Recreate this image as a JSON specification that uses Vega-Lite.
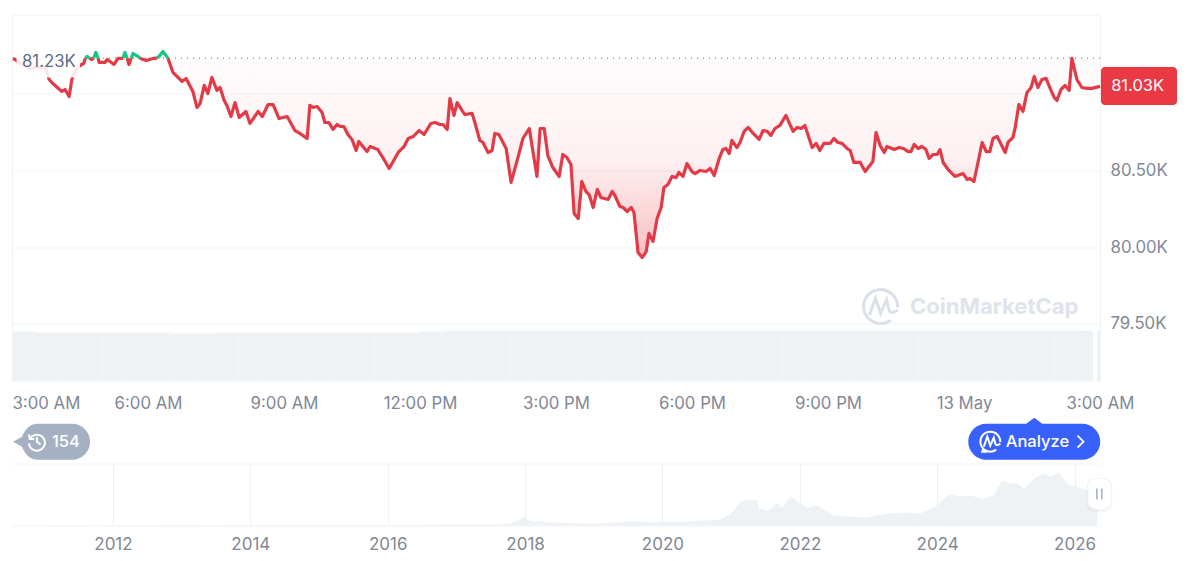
{
  "$schema": "https://vega.github.io/schema/vega-lite/v6.json",
  "background": "white",
  "padding": {"left": 10, "top": 13.5, "right": 23, "bottom": 8},
  "bounds": "flush",
  "spacing": 83,
  "data": {"values": [{}]},
  "config": {
    "font": "Inter",
    "view": {"stroke": null},
    "axis": {"labelFont": "Inter", "labelFontSize": 16.8, "labelColor": "#7f8894", "gridColor": "#eff2f5", "gridWidth": 1, "domain": false, "ticks": false, "title": null}
  },
  "datasets": {
    "down": [
      {"t":3.02,"price":81228,"seg":"d1"},{"t":3.07,"price":81221,"seg":"d1"},{"t":3.18,"price":81195,"seg":"d1"},{"t":3.40,"price":81163,"seg":"d1"},{"t":3.57,"price":81169,"seg":"d1"},{"t":3.73,"price":81176,"seg":"d1"},{"t":3.82,"price":81091,"seg":"d1"},{"t":3.90,"price":81065,"seg":"d1"},{"t":4.10,"price":81013,"seg":"d1"},{"t":4.17,"price":81026,"seg":"d1"},{"t":4.26,"price":80980,"seg":"d1"},{"t":4.32,"price":81091,"seg":"d1"},{"t":4.37,"price":81137,"seg":"d1"},{"t":4.50,"price":81182,"seg":"d1"},{"t":4.58,"price":81195,"seg":"d1"},{"t":4.62,"price":81230,"seg":"d1"},
      {"t":4.71,"price":81230,"seg":"d2"},{"t":4.76,"price":81221,"seg":"d2"},{"t":4.80,"price":81230,"seg":"d2"},
      {"t":4.90,"price":81230,"seg":"d3"},{"t":4.92,"price":81202,"seg":"d3"},{"t":5.05,"price":81202,"seg":"d3"},{"t":5.10,"price":81221,"seg":"d3"},{"t":5.25,"price":81189,"seg":"d3"},{"t":5.34,"price":81228,"seg":"d3"},{"t":5.43,"price":81228,"seg":"d3"},{"t":5.45,"price":81230,"seg":"d3"},
      {"t":5.54,"price":81230,"seg":"d4"},{"t":5.58,"price":81189,"seg":"d4"},{"t":5.63,"price":81230,"seg":"d4"},
      {"t":5.82,"price":81230,"seg":"d5"},{"t":5.96,"price":81215,"seg":"d5"},{"t":6.11,"price":81228,"seg":"d5"},{"t":6.20,"price":81230,"seg":"d5"},
      {"t":6.44,"price":81230,"seg":"d6"},{"t":6.55,"price":81137,"seg":"d6"},{"t":6.75,"price":81078,"seg":"d6"},{"t":6.84,"price":81098,"seg":"d6"},{"t":6.99,"price":81013,"seg":"d6"},{"t":7.08,"price":80909,"seg":"d6"},{"t":7.15,"price":80935,"seg":"d6"},{"t":7.24,"price":81052,"seg":"d6"},{"t":7.32,"price":81000,"seg":"d6"},{"t":7.41,"price":81104,"seg":"d6"},{"t":7.52,"price":81020,"seg":"d6"},{"t":7.59,"price":81039,"seg":"d6"},{"t":7.68,"price":80954,"seg":"d6"},{"t":7.74,"price":80922,"seg":"d6"},{"t":7.83,"price":80850,"seg":"d6"},{"t":7.92,"price":80941,"seg":"d6"},{"t":8.01,"price":80844,"seg":"d6"},{"t":8.16,"price":80883,"seg":"d6"},{"t":8.25,"price":80805,"seg":"d6"},{"t":8.43,"price":80883,"seg":"d6"},{"t":8.52,"price":80850,"seg":"d6"},{"t":8.65,"price":80928,"seg":"d6"},{"t":8.76,"price":80928,"seg":"d6"},{"t":8.89,"price":80837,"seg":"d6"},{"t":9.07,"price":80850,"seg":"d6"},{"t":9.24,"price":80759,"seg":"d6"},{"t":9.35,"price":80740,"seg":"d6"},{"t":9.51,"price":80707,"seg":"d6"},{"t":9.57,"price":80922,"seg":"d6"},{"t":9.64,"price":80909,"seg":"d6"},{"t":9.73,"price":80915,"seg":"d6"},{"t":9.84,"price":80876,"seg":"d6"},{"t":9.90,"price":80811,"seg":"d6"},{"t":9.99,"price":80811,"seg":"d6"},{"t":10.08,"price":80766,"seg":"d6"},{"t":10.17,"price":80798,"seg":"d6"},{"t":10.24,"price":80785,"seg":"d6"},{"t":10.32,"price":80785,"seg":"d6"},{"t":10.41,"price":80733,"seg":"d6"},{"t":10.50,"price":80701,"seg":"d6"},{"t":10.59,"price":80629,"seg":"d6"},{"t":10.65,"price":80688,"seg":"d6"},{"t":10.83,"price":80622,"seg":"d6"},{"t":10.90,"price":80655,"seg":"d6"},{"t":11.07,"price":80635,"seg":"d6"},{"t":11.18,"price":80583,"seg":"d6"},{"t":11.32,"price":80512,"seg":"d6"},{"t":11.52,"price":80616,"seg":"d6"},{"t":11.65,"price":80655,"seg":"d6"},{"t":11.74,"price":80707,"seg":"d6"},{"t":11.85,"price":80720,"seg":"d6"},{"t":11.98,"price":80759,"seg":"d6"},{"t":12.09,"price":80733,"seg":"d6"},{"t":12.24,"price":80805,"seg":"d6"},{"t":12.33,"price":80811,"seg":"d6"},{"t":12.44,"price":80798,"seg":"d6"},{"t":12.51,"price":80798,"seg":"d6"},{"t":12.60,"price":80766,"seg":"d6"},{"t":12.66,"price":80967,"seg":"d6"},{"t":12.75,"price":80857,"seg":"d6"},{"t":12.82,"price":80941,"seg":"d6"},{"t":12.93,"price":80889,"seg":"d6"},{"t":12.99,"price":80863,"seg":"d6"},{"t":13.15,"price":80870,"seg":"d6"},{"t":13.21,"price":80811,"seg":"d6"},{"t":13.32,"price":80694,"seg":"d6"},{"t":13.39,"price":80681,"seg":"d6"},{"t":13.50,"price":80616,"seg":"d6"},{"t":13.59,"price":80629,"seg":"d6"},{"t":13.65,"price":80740,"seg":"d6"},{"t":13.74,"price":80733,"seg":"d6"},{"t":13.90,"price":80642,"seg":"d6"},{"t":14.01,"price":80421,"seg":"d6"},{"t":14.16,"price":80583,"seg":"d6"},{"t":14.27,"price":80707,"seg":"d6"},{"t":14.41,"price":80772,"seg":"d6"},{"t":14.58,"price":80460,"seg":"d6"},{"t":14.65,"price":80772,"seg":"d6"},{"t":14.74,"price":80772,"seg":"d6"},{"t":14.82,"price":80596,"seg":"d6"},{"t":14.93,"price":80518,"seg":"d6"},{"t":15.07,"price":80460,"seg":"d6"},{"t":15.15,"price":80603,"seg":"d6"},{"t":15.24,"price":80583,"seg":"d6"},{"t":15.33,"price":80538,"seg":"d6"},{"t":15.40,"price":80219,"seg":"d6"},{"t":15.49,"price":80186,"seg":"d6"},{"t":15.57,"price":80427,"seg":"d6"},{"t":15.66,"price":80362,"seg":"d6"},{"t":15.73,"price":80342,"seg":"d6"},{"t":15.82,"price":80258,"seg":"d6"},{"t":15.91,"price":80375,"seg":"d6"},{"t":15.99,"price":80323,"seg":"d6"},{"t":16.15,"price":80310,"seg":"d6"},{"t":16.24,"price":80362,"seg":"d6"},{"t":16.30,"price":80336,"seg":"d6"},{"t":16.41,"price":80264,"seg":"d6"},{"t":16.48,"price":80258,"seg":"d6"},{"t":16.57,"price":80232,"seg":"d6"},{"t":16.66,"price":80258,"seg":"d6"},{"t":16.72,"price":80225,"seg":"d6"},{"t":16.81,"price":79965,"seg":"d6"},{"t":16.90,"price":79932,"seg":"d6"},{"t":16.99,"price":79971,"seg":"d6"},{"t":17.05,"price":80089,"seg":"d6"},{"t":17.14,"price":80037,"seg":"d6"},{"t":17.23,"price":80186,"seg":"d6"},{"t":17.32,"price":80258,"seg":"d6"},{"t":17.38,"price":80388,"seg":"d6"},{"t":17.47,"price":80408,"seg":"d6"},{"t":17.56,"price":80460,"seg":"d6"},{"t":17.65,"price":80453,"seg":"d6"},{"t":17.71,"price":80486,"seg":"d6"},{"t":17.80,"price":80460,"seg":"d6"},{"t":17.89,"price":80544,"seg":"d6"},{"t":18.00,"price":80492,"seg":"d6"},{"t":18.07,"price":80479,"seg":"d6"},{"t":18.18,"price":80499,"seg":"d6"},{"t":18.31,"price":80492,"seg":"d6"},{"t":18.40,"price":80512,"seg":"d6"},{"t":18.49,"price":80466,"seg":"d6"},{"t":18.60,"price":80577,"seg":"d6"},{"t":18.68,"price":80635,"seg":"d6"},{"t":18.75,"price":80642,"seg":"d6"},{"t":18.82,"price":80609,"seg":"d6"},{"t":18.88,"price":80694,"seg":"d6"},{"t":18.99,"price":80648,"seg":"d6"},{"t":19.06,"price":80681,"seg":"d6"},{"t":19.15,"price":80753,"seg":"d6"},{"t":19.24,"price":80779,"seg":"d6"},{"t":19.35,"price":80740,"seg":"d6"},{"t":19.48,"price":80701,"seg":"d6"},{"t":19.57,"price":80759,"seg":"d6"},{"t":19.66,"price":80753,"seg":"d6"},{"t":19.74,"price":80727,"seg":"d6"},{"t":19.83,"price":80772,"seg":"d6"},{"t":19.94,"price":80792,"seg":"d6"},{"t":20.07,"price":80857,"seg":"d6"},{"t":20.23,"price":80753,"seg":"d6"},{"t":20.32,"price":80779,"seg":"d6"},{"t":20.41,"price":80772,"seg":"d6"},{"t":20.49,"price":80792,"seg":"d6"},{"t":20.65,"price":80648,"seg":"d6"},{"t":20.74,"price":80675,"seg":"d6"},{"t":20.82,"price":80629,"seg":"d6"},{"t":20.91,"price":80675,"seg":"d6"},{"t":21.05,"price":80675,"seg":"d6"},{"t":21.13,"price":80707,"seg":"d6"},{"t":21.22,"price":80681,"seg":"d6"},{"t":21.31,"price":80675,"seg":"d6"},{"t":21.42,"price":80642,"seg":"d6"},{"t":21.49,"price":80629,"seg":"d6"},{"t":21.57,"price":80551,"seg":"d6"},{"t":21.71,"price":80551,"seg":"d6"},{"t":21.82,"price":80492,"seg":"d6"},{"t":21.99,"price":80557,"seg":"d6"},{"t":22.06,"price":80746,"seg":"d6"},{"t":22.15,"price":80661,"seg":"d6"},{"t":22.24,"price":80616,"seg":"d6"},{"t":22.30,"price":80655,"seg":"d6"},{"t":22.46,"price":80635,"seg":"d6"},{"t":22.57,"price":80648,"seg":"d6"},{"t":22.66,"price":80642,"seg":"d6"},{"t":22.77,"price":80622,"seg":"d6"},{"t":22.83,"price":80622,"seg":"d6"},{"t":22.90,"price":80668,"seg":"d6"},{"t":22.99,"price":80642,"seg":"d6"},{"t":23.07,"price":80655,"seg":"d6"},{"t":23.16,"price":80635,"seg":"d6"},{"t":23.23,"price":80577,"seg":"d6"},{"t":23.32,"price":80603,"seg":"d6"},{"t":23.41,"price":80603,"seg":"d6"},{"t":23.47,"price":80635,"seg":"d6"},{"t":23.54,"price":80551,"seg":"d6"},{"t":23.65,"price":80505,"seg":"d6"},{"t":23.80,"price":80460,"seg":"d6"},{"t":23.98,"price":80479,"seg":"d6"},{"t":24.07,"price":80440,"seg":"d6"},{"t":24.13,"price":80447,"seg":"d6"},{"t":24.22,"price":80427,"seg":"d6"},{"t":24.40,"price":80681,"seg":"d6"},{"t":24.49,"price":80622,"seg":"d6"},{"t":24.57,"price":80622,"seg":"d6"},{"t":24.64,"price":80707,"seg":"d6"},{"t":24.73,"price":80720,"seg":"d6"},{"t":24.91,"price":80616,"seg":"d6"},{"t":24.97,"price":80681,"seg":"d6"},{"t":25.08,"price":80714,"seg":"d6"},{"t":25.13,"price":80779,"seg":"d6"},{"t":25.21,"price":80928,"seg":"d6"},{"t":25.30,"price":80883,"seg":"d6"},{"t":25.39,"price":81007,"seg":"d6"},{"t":25.48,"price":81039,"seg":"d6"},{"t":25.55,"price":81111,"seg":"d6"},{"t":25.63,"price":81039,"seg":"d6"},{"t":25.72,"price":81091,"seg":"d6"},{"t":25.81,"price":81098,"seg":"d6"},{"t":25.90,"price":81033,"seg":"d6"},{"t":25.99,"price":80974,"seg":"d6"},{"t":26.05,"price":80954,"seg":"d6"},{"t":26.14,"price":81026,"seg":"d6"},{"t":26.23,"price":81052,"seg":"d6"},{"t":26.32,"price":81020,"seg":"d6"},{"t":26.38,"price":81228,"seg":"d6"},{"t":26.49,"price":81091,"seg":"d6"},{"t":26.60,"price":81039,"seg":"d6"},{"t":26.71,"price":81033,"seg":"d6"},{"t":26.82,"price":81033,"seg":"d6"},{"t":27.00,"price":81046,"seg":"d6"}
    ],
    "up": [
      {"t":4.62,"price":81230,"seg":"u1"},{"t":4.65,"price":81241,"seg":"u1"},{"t":4.71,"price":81230,"seg":"u1"},
      {"t":4.80,"price":81230,"seg":"u2"},{"t":4.85,"price":81267,"seg":"u2"},{"t":4.90,"price":81230,"seg":"u2"},
      {"t":5.45,"price":81230,"seg":"u3"},{"t":5.49,"price":81267,"seg":"u3"},{"t":5.54,"price":81230,"seg":"u3"},
      {"t":5.63,"price":81230,"seg":"u4"},{"t":5.67,"price":81260,"seg":"u4"},{"t":5.78,"price":81241,"seg":"u4"},{"t":5.82,"price":81230,"seg":"u4"},
      {"t":6.20,"price":81230,"seg":"u5"},{"t":6.24,"price":81241,"seg":"u5"},{"t":6.33,"price":81273,"seg":"u5"},{"t":6.44,"price":81230,"seg":"u5"}
    ],
    "volume": [
      {"t0":3,"t1":3.5,"vol":49},{"t0":3.5,"t1":4,"vol":48},{"t0":4,"t1":4.5,"vol":48},{"t0":4.5,"t1":5,"vol":48},{"t0":5,"t1":5.5,"vol":48},{"t0":5.5,"t1":6,"vol":48},{"t0":6,"t1":6.5,"vol":48},{"t0":6.5,"t1":7,"vol":47},{"t0":7,"t1":7.5,"vol":47},{"t0":7.5,"t1":8,"vol":48},{"t0":8,"t1":8.5,"vol":48},{"t0":8.5,"t1":9,"vol":48},{"t0":9,"t1":9.5,"vol":48},{"t0":9.5,"t1":10,"vol":48},{"t0":10,"t1":10.5,"vol":48},{"t0":10.5,"t1":11,"vol":48},{"t0":11,"t1":11.5,"vol":48},{"t0":11.5,"t1":12,"vol":48},{"t0":12,"t1":12.5,"vol":49},{"t0":12.5,"t1":13,"vol":50},{"t0":13,"t1":13.5,"vol":50},{"t0":13.5,"t1":14,"vol":50},{"t0":14,"t1":14.5,"vol":50},{"t0":14.5,"t1":15,"vol":50},{"t0":15,"t1":15.5,"vol":50},{"t0":15.5,"t1":16,"vol":50},{"t0":16,"t1":16.5,"vol":50},{"t0":16.5,"t1":17,"vol":50},{"t0":17,"t1":17.5,"vol":50},{"t0":17.5,"t1":18,"vol":50},{"t0":18,"t1":18.5,"vol":50},{"t0":18.5,"t1":19,"vol":50},{"t0":19,"t1":19.5,"vol":50},{"t0":19.5,"t1":20,"vol":50},{"t0":20,"t1":20.5,"vol":50},{"t0":20.5,"t1":21,"vol":50},{"t0":21,"t1":21.5,"vol":50},{"t0":21.5,"t1":22,"vol":50},{"t0":22,"t1":22.5,"vol":50},{"t0":22.5,"t1":23,"vol":50},{"t0":23,"t1":23.5,"vol":50},{"t0":23.5,"t1":24,"vol":50},{"t0":24,"t1":24.5,"vol":50},{"t0":24.5,"t1":25,"vol":50},{"t0":25,"t1":25.5,"vol":50},{"t0":25.5,"t1":26,"vol":50},{"t0":26,"t1":26.5,"vol":50},{"t0":26.5,"t1":26.85,"vol":50},{"t0":26.94,"t1":27,"vol":50}
    ],
    "history": [
      {"year":2010.53,"price":700},{"year":2015.89,"price":1000},{"year":2017.49,"price":2300},{"year":2017.78,"price":4000},{"year":2017.90,"price":11700},{"year":2017.97,"price":19400},{"year":2018.07,"price":11700},{"year":2018.15,"price":7700},{"year":2018.19,"price":11700},{"year":2018.29,"price":7700},{"year":2018.95,"price":4000},{"year":2019.39,"price":7700},{"year":2019.53,"price":10000},{"year":2019.82,"price":7700},{"year":2020.00,"price":7700},{"year":2020.14,"price":10000},{"year":2020.26,"price":7700},{"year":2020.59,"price":11700},{"year":2020.84,"price":13300},{"year":2020.99,"price":27300},{"year":2021.13,"price":53700},{"year":2021.24,"price":60000},{"year":2021.38,"price":58400},{"year":2021.40,"price":39700},{"year":2021.53,"price":35000},{"year":2021.67,"price":51300},{"year":2021.75,"price":42000},{"year":2021.86,"price":67700},{"year":2021.98,"price":53700},{"year":2022.11,"price":42000},{"year":2022.25,"price":46700},{"year":2022.37,"price":35000},{"year":2022.49,"price":23300},{"year":2022.73,"price":21000},{"year":2022.95,"price":18000},{"year":2023.27,"price":28000},{"year":2023.61,"price":30300},{"year":2023.75,"price":28000},{"year":2024.00,"price":46700},{"year":2024.10,"price":62000},{"year":2024.19,"price":74000},{"year":2024.30,"price":68000},{"year":2024.48,"price":70000},{"year":2024.67,"price":62300},{"year":2024.82,"price":70000},{"year":2024.95,"price":105000},{"year":2025.08,"price":97000},{"year":2025.17,"price":98000},{"year":2025.26,"price":85700},{"year":2025.43,"price":112000},{"year":2025.55,"price":121400},{"year":2025.65,"price":115000},{"year":2025.77,"price":123700},{"year":2025.90,"price":97300},{"year":2026.00,"price":92000},{"year":2026.13,"price":85700},{"year":2026.33,"price":77000}
    ]
  },
  "vconcat": [
    {
      "width": 1088,
      "height": 366,
      "view": {"stroke": "#eff2f5"},
      "layer": [
        {
          "data": {"name": "volume"},
          "mark": {"type": "rect", "color": "#eff2f4"},
          "encoding": {
            "x": {
              "field": "t0", "type": "quantitative",
              "scale": {"domain": [3, 27], "nice": false, "zero": false},
              "axis": {
                "values": [3, 6, 9, 12, 15, 18, 21, 24, 27],
                "grid": false, "labelPadding": 15, "labelOverlap": false, "labelBound": false, "labelFlush": false,
                "labelAlign": {"condition": {"test": "datum.value == 3", "value": "left"}, "value": "center"},
                "labelExpr": "{3:'3:00 AM',6:'6:00 AM',9:'9:00 AM',12:'12:00 PM',15:'3:00 PM',18:'6:00 PM',21:'9:00 PM',24:'13 May',27:'3:00 AM'}[datum.value]"
              }
            },
            "x2": {"field": "t1"},
            "y": {"field": "vol", "type": "quantitative", "scale": {"domain": [0, 366], "nice": false}, "axis": null},
            "y2": {"datum": 0}
          }
        },
        {
          "layer": [
            {
              "data": {"name": "down"},
              "transform": [{"filter": "datum.seg == 'd6'"}],
              "mark": {"type": "area", "color": {"gradient": "linear", "x1": 0, "x2": 0, "y1": 0, "y2": 1, "stops": [{"offset": 0, "color": "rgba(234,57,67,0.015)"}, {"offset": 0.5, "color": "rgba(234,57,67,0.07)"}, {"offset": 1, "color": "rgba(234,57,67,0.32)"}]}},
              "encoding": {
                "x": {"field": "t", "type": "quantitative"},
                "y": {
                  "field": "price", "type": "quantitative",
                  "scale": {"domain": [79132, 81514], "nice": false, "zero": false},
                  "axis": {
                    "orient": "right", "values": [79500, 80000, 80500, 81000], "grid": true, "labelPadding": 10,
                    "labelExpr": "datum.value == 81000 ? '' : format(datum.value / 1000, '.2f') + 'K'"
                  }
                },
                "y2": {"datum": 81230}
              }
            },
            {
              "data": {"name": "up"},
              "mark": {"type": "area", "color": "#16c784", "opacity": 0.15},
              "encoding": {
                "x": {"field": "t", "type": "quantitative"},
                "y": {"field": "price", "type": "quantitative"},
                "y2": {"datum": 81230},
                "detail": {"field": "seg"}
              }
            },
            {
              "mark": {"type": "rule", "color": "#616e85", "strokeDash": [1, 5], "strokeWidth": 1},
              "encoding": {"y": {"datum": 81230, "type": "quantitative"}}
            },
            {
              "data": {"name": "down"},
              "mark": {"type": "line", "color": "#e23b47", "strokeWidth": 3.2, "strokeJoin": "round"},
              "encoding": {
                "x": {"field": "t", "type": "quantitative"},
                "y": {"field": "price", "type": "quantitative"},
                "detail": {"field": "seg"}
              }
            },
            {
              "data": {"name": "up"},
              "mark": {"type": "line", "color": "#16c784", "strokeWidth": 3.2, "strokeJoin": "round"},
              "encoding": {
                "x": {"field": "t", "type": "quantitative"},
                "y": {"field": "price", "type": "quantitative"},
                "detail": {"field": "seg"}
              }
            },
            {
              "mark": {"type": "rect", "color": "white", "opacity": 0.88, "cornerRadius": 4},
              "encoding": {
                "x": {"datum": 3.1, "type": "quantitative"},
                "x2": {"datum": 4.5},
                "y": {"datum": 81306, "type": "quantitative"},
                "y2": {"datum": 81104}
              }
            },
            {
              "mark": {"type": "text", "text": "81.23K", "align": "left", "fontSize": 16.8, "color": "#616e85", "font": "Inter"},
              "encoding": {"x": {"datum": 3.22, "type": "quantitative"}, "y": {"datum": 81205, "type": "quantitative"}}
            },
            {
              "mark": {"type": "rect", "color": "#ea3943", "cornerRadius": 4},
              "encoding": {
                "x": {"datum": 27.02, "type": "quantitative"},
                "x2": {"datum": 28.7},
                "y": {"datum": 81172, "type": "quantitative"},
                "y2": {"datum": 80925}
              }
            },
            {
              "mark": {"type": "text", "text": "81.03K", "fontSize": 16.5, "color": "white", "font": "Inter"},
              "encoding": {"x": {"datum": 27.83, "type": "quantitative"}, "y": {"datum": 81046, "type": "quantitative"}}
            },
            {
              "mark": {"type": "point", "filled": false, "size": 11.56, "color": "#dadfe8", "strokeWidth": 3, "opacity": 1, "shape": "M6,8 A10,10 0 1 1 10,0.5 M-6.5,5 L-3,-5 L0,4 L3.5,-4 L5,2 Q6,5 10,2"},
              "encoding": {"x": {"datum": 22.16, "type": "quantitative"}, "y": {"datum": 79613, "type": "quantitative"}}
            },
            {
              "mark": {"type": "text", "text": "CoinMarketCap", "align": "left", "fontSize": 22, "fontWeight": 700, "color": "#dfe3ea", "font": "Inter"},
              "encoding": {"x": {"datum": 22.81, "type": "quantitative"}, "y": {"datum": 79613, "type": "quantitative"}}
            },
            {
              "mark": {"type": "point", "filled": true, "size": 4, "color": "#a6b0c3", "opacity": 1, "shape": "M-17,-18 L17,-18 A18,18 0 0 1 17,18 L-17,18 Q-28,18 -33,5 L-42,0 L-33,-5 Q-28,-18 -17,-18 Z"},
              "encoding": {"x": {"datum": 3.95, "type": "quantitative"}, "y": {"datum": 78734, "type": "quantitative"}}
            },
            {
              "mark": {"type": "point", "filled": false, "size": 3.2, "color": "white", "strokeWidth": 2, "opacity": 1, "shape": "M-8,-3 A9,9 0 1 1 -9,2 M-9,-8 L-8,-3 L-3,-3 M0,-5 L0,0 L4,3"},
              "encoding": {"x": {"datum": 3.55, "type": "quantitative"}, "y": {"datum": 78734, "type": "quantitative"}}
            },
            {
              "mark": {"type": "text", "text": "154", "align": "left", "fontSize": 16.5, "fontWeight": 500, "color": "white", "font": "Inter"},
              "encoding": {"x": {"datum": 3.88, "type": "quantitative"}, "y": {"datum": 78734, "type": "quantitative"}}
            },
            {
              "mark": {"type": "point", "filled": true, "size": 4, "color": "#3861fb", "opacity": 1, "shape": "M-48,-18 L-8,-18 L0,-24 L8,-18 L48,-18 A18,18 0 0 1 48,18 L-48,18 A18,18 0 0 1 -48,-18 Z"},
              "encoding": {"x": {"datum": 25.55, "type": "quantitative"}, "y": {"datum": 78734, "type": "quantitative"}}
            },
            {
              "mark": {"type": "point", "filled": false, "size": 4, "color": "white", "strokeWidth": 2, "opacity": 1, "shape": "M6,8 A10,10 0 1 1 10,0.5 M-6.5,5 L-3,-5 L0,4 L3.5,-4 L5,2 Q6,5 10,2 M-7,7 L-8,10 L-3,10"},
              "encoding": {"x": {"datum": 24.58, "type": "quantitative"}, "y": {"datum": 78734, "type": "quantitative"}}
            },
            {
              "mark": {"type": "text", "text": "Analyze", "align": "left", "fontSize": 16.5, "fontWeight": 500, "color": "white", "font": "Inter"},
              "encoding": {"x": {"datum": 24.92, "type": "quantitative"}, "y": {"datum": 78734, "type": "quantitative"}}
            },
            {
              "mark": {"type": "point", "filled": false, "size": 4, "color": "white", "strokeWidth": 1.8, "opacity": 1, "shape": "M-3,-6 L3,0 L-3,6"},
              "encoding": {"x": {"datum": 26.57, "type": "quantitative"}, "y": {"datum": 78734, "type": "quantitative"}}
            }
          ]
        }
      ],
      "resolve": {"scale": {"y": "independent"}}
    },
    {
      "width": 1088,
      "height": 62,
      "layer": [
        {
          "data": {"name": "history"},
          "mark": {"type": "area", "color": "#eff2f5", "opacity": 1},
          "encoding": {
            "x": {
              "field": "year", "type": "quantitative",
              "scale": {"domain": [2010.53, 2026.37], "nice": false, "zero": false},
              "axis": {"values": [2012, 2014, 2016, 2018, 2020, 2022, 2024, 2026], "format": "d", "grid": true, "labelPadding": 11, "labelFontSize": 17, "labelOverlap": false, "labelBound": false, "labelFlush": false}
            },
            "y": {
              "field": "price", "type": "quantitative",
              "scale": {"domain": [0, 144700], "nice": false},
              "axis": {"values": [0, 144700], "grid": true, "labels": false}
            }
          }
        },
        {
          "mark": {"type": "point", "filled": true, "size": 4, "color": "#c9cfdb", "opacity": 0.18, "shape": "M-5,-16 L5,-16 A8,8 0 0 1 13,-8 L13,10 A8,8 0 0 1 5,18 L-5,18 A8,8 0 0 1 -13,10 L-13,-8 A8,8 0 0 1 -5,-16 Z"},
          "encoding": {"x": {"datum": 2026.36, "type": "quantitative"}, "y": {"datum": 73500, "type": "quantitative"}}
        },
        {
          "mark": {"type": "point", "filled": true, "size": 4, "color": "white", "opacity": 1, "shape": "M-3,-15 L3,-15 A8,8 0 0 1 11,-7 L11,7 A8,8 0 0 1 3,15 L-3,15 A8,8 0 0 1 -11,7 L-11,-7 A8,8 0 0 1 -3,-15 Z"},
          "encoding": {"x": {"datum": 2026.36, "type": "quantitative"}, "y": {"datum": 73500, "type": "quantitative"}}
        },
        {
          "mark": {"type": "point", "filled": false, "size": 4, "color": "#a6b0c3", "strokeWidth": 1.5, "opacity": 1, "shape": "M-2.5,-5.5 L-2.5,5.5 M2.5,-5.5 L2.5,5.5"},
          "encoding": {"x": {"datum": 2026.36, "type": "quantitative"}, "y": {"datum": 73500, "type": "quantitative"}}
        }
      ]
    }
  ]
}
